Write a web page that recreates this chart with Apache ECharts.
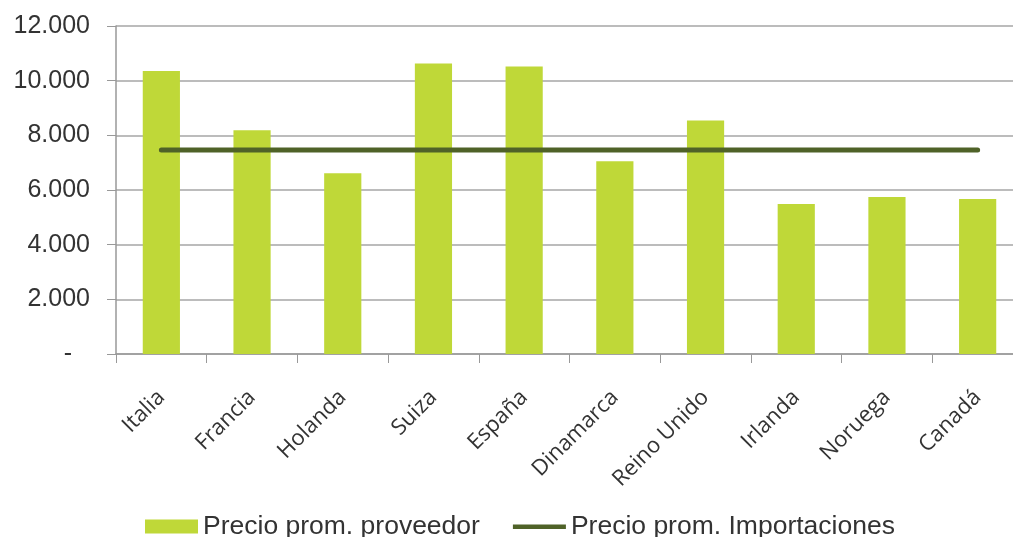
<!DOCTYPE html>
<html>
<head>
<meta charset="utf-8">
<script src="https://cdn.jsdelivr.net/npm/echarts@6/dist/echarts.min.js"></script>
<style>
html,body{margin:0;padding:0;background:#fff;}
#chart{width:1013px;height:537px;}
</style>
</head>
<body>
<div id="chart"></div>
<script>
var categories = ['Italia','Francia','Holanda','Suiza','España','Dinamarca','Reino Unido','Irlanda','Noruega','Canadá'];
var proveedor = [10350, 8190, 6610, 10630, 10520, 7050, 8545, 5485, 5740, 5670];
var importaciones = [7460, 7460, 7460, 7460, 7460, 7460, 7460, 7460, 7460, 7460];
var yTicks = [0, 2000, 4000, 6000, 8000, 10000, 12000];

var chart = echarts.init(document.getElementById('chart'), null, {renderer:'canvas'});
function fmt(v){
  if (v === 0) return '{d|-}';
  return String(v).replace(/\B(?=(\d{3})+(?!\d))/g, '.');
}
chart.setOption({
  animation:false,
  backgroundColor:'#fff',
  grid:{left:116, top:26, width:907, height:328, containLabel:false, outerBoundsMode:'none'},
  legend:{
    top:513, left:145, padding:0,
    itemGap:33, itemWidth:53, itemHeight:14,
    textStyle:{fontFamily:'Liberation Sans', fontSize:26.5, color:'#333'},
    data:[
      {name:'Precio prom. proveedor', icon:'rect'},
      {name:'Precio prom. Importaciones', icon:'path://M0,0 M0,14 M0,5 L55,5 L55,9.5 L0,9.5 Z', itemStyle:{color:'#4f6228'}}
    ]
  },
  xAxis:{
    type:'category', data:categories,
    axisLine:{lineStyle:{color:'#999', width:1.5}},
    axisTick:{show:true, length:9, lineStyle:{color:'#999'}},
    axisLabel:{rotate:45, fontFamily:'Open Sans', fontSize:22, color:'#333', margin:40, interval:0}
  },
  yAxis:{
    type:'value', min:yTicks[0], max:yTicks[yTicks.length-1], interval:2000,
    axisLine:{show:true, lineStyle:{color:'#999', width:1.5}},
    axisTick:{show:true, length:9, lineStyle:{color:'#999'}},
    splitLine:{lineStyle:{color:'#a6a6a6', width:1.5}},
    axisLabel:{formatter:fmt, fontFamily:'Liberation Sans', fontSize:25, color:'#333', margin:26,
      rich:{d:{fontFamily:'Liberation Sans', fontSize:25, color:'#333', padding:[0,18,0,0]}}}
  },
  series:[
    {name:'Precio prom. proveedor', type:'bar', data:proveedor, barWidth:'41%',
     itemStyle:{color:'#bfd838'}},
    {name:'Precio prom. Importaciones', type:'line', data:importaciones, symbol:'none',
     lineStyle:{color:'#4f6228', width:5, cap:'round'}, itemStyle:{color:'#4f6228'}}
  ]
});
</script>
</body>
</html>
